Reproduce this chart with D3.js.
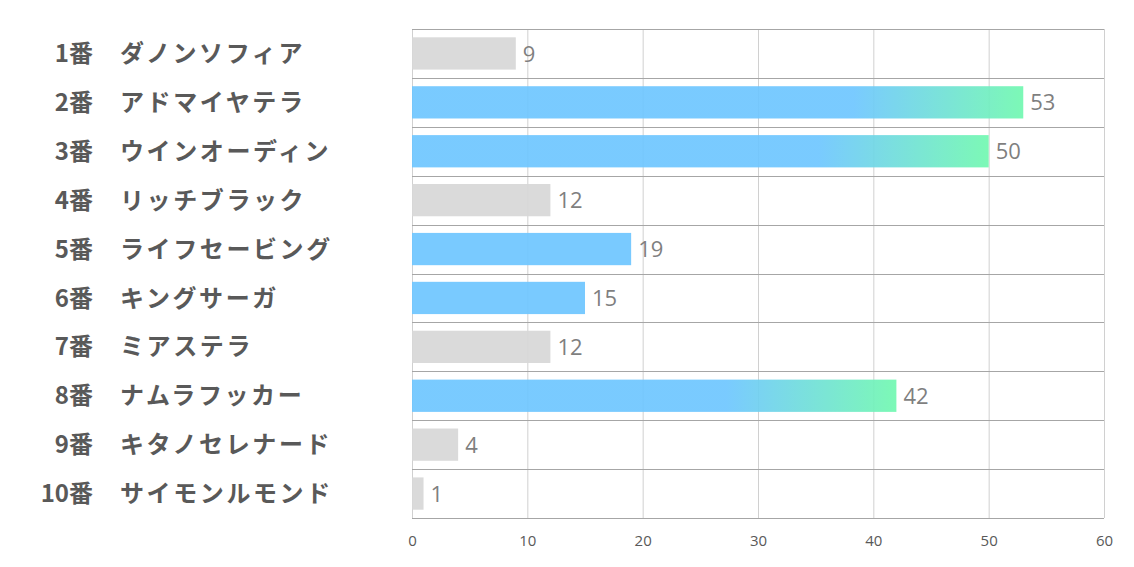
<!DOCTYPE html>
<html><head><meta charset="utf-8">
<script src="https://cdn.jsdelivr.net/npm/d3@7"></script>
<style>body{margin:0;background:#fff;} svg{display:block;}</style>
</head><body><svg id="c" width="1134" height="567"></svg>
<script>
const numbers = ["1番","2番","3番","4番","5番","6番","7番","8番","9番","10番"];
const names = ["ダノンソフィア","アドマイヤテラ","ウインオーディン","リッチブラック","ライフセービング","キングサーガ","ミアステラ","ナムラフッカー","キタノセレナード","サイモンルモンド"];
const values = [9,53,50,12,19,15,12,42,4,1];
// bar style: "grad" = blue fading to green, "blue" = solid blue, "gray" = gray
const styles = ["gray","grad","grad","gray","blue","blue","gray","grad","gray","gray"];
const ticks = [0,10,20,30,40,50,60];

(function(){
const svg = d3.select("#c");
const pL = 412, pR = 1104, pT = 29, pB = 518;
const fadeLen = 170;
const x = d3.scaleLinear().domain([0,60]).range([pL,pR]);
const y = d3.scaleBand().domain(d3.range(values.length)).range([pT,pB]).paddingInner(0.34).paddingOuter(0.17);

const defs = svg.append("defs");
values.forEach((v,i)=>{
  if (styles[i] !== "grad") return;
  const g = defs.append("linearGradient").attr("id","g"+i).attr("gradientUnits","userSpaceOnUse")
    .attr("x1",x(v)-fadeLen).attr("x2",x(v)).attr("y1",0).attr("y2",0);
  g.append("stop").attr("offset","0").attr("stop-color","#6EC6FF");
  g.append("stop").attr("offset","1").attr("stop-color","#71F8B0");
});

svg.append("g").selectAll("line").data(ticks).join("line")
  .attr("x1",d=>x(d)+0.5).attr("x2",d=>x(d)+0.5).attr("y1",pT).attr("y2",pB)
  .attr("stroke","#D0D0D0").attr("stroke-width",1);

svg.append("g").selectAll("rect").data(values).join("rect")
  .attr("x",x(0)).attr("y",(d,i)=>y(i)).attr("width",d=>x(d)-x(0)).attr("height",y.bandwidth())
  .attr("fill",(d,i)=>styles[i]==="grad" ? `url(#g${i})` : styles[i]==="blue" ? "#6EC6FF" : "#D7D7D7")
  .attr("fill-opacity",0.92);

const step = (pB-pT)/values.length;
svg.append("g").selectAll("line").data(d3.range(values.length+1)).join("line")
  .attr("x1",pL).attr("x2",pR)
  .attr("y1",d=>Math.round(pT+d*step)+0.5).attr("y2",d=>Math.round(pT+d*step)+0.5)
  .attr("stroke","#A6A6A6").attr("stroke-width",1);

svg.append("g").selectAll("text").data(values).join("text")
  .attr("x",d=>x(d)+7).attr("y",(d,i)=>y(i)+y.bandwidth()/2).attr("dy","0.37em")
  .attr("font-family","'Open Sans', sans-serif").attr("font-size",22).attr("fill","#7F7F7F")
  .text(d=>d);

const lab = svg.append("g");
lab.selectAll("text.n").data(numbers).join("text").attr("class","n")
  .attr("x",93).attr("y",(d,i)=>y(i)+y.bandwidth()/2).attr("dy","0.36em")
  .attr("text-anchor","end")
  .attr("font-family","'Noto Sans CJK JP', sans-serif").attr("font-weight","bold")
  .attr("font-size",24).attr("fill","#595959").text(d=>d);
lab.selectAll("text.m").data(names).join("text").attr("class","m")
  .attr("x",120).attr("y",(d,i)=>y(i)+y.bandwidth()/2).attr("dy","0.36em")
  .attr("font-family","'Noto Sans CJK JP', sans-serif").attr("font-weight","bold")
  .attr("font-size",24).attr("letter-spacing","2.6px").attr("fill","#595959").text(d=>d);

const ax = svg.append("g").attr("transform",`translate(0,${pB})`)
  .call(d3.axisBottom(x).tickValues(ticks).tickSize(0).tickPadding(17));
ax.select(".domain").remove();
ax.selectAll("text").attr("font-family","'Open Sans', sans-serif").attr("font-size",15).attr("fill","#595959");
})();
</script></body></html>
